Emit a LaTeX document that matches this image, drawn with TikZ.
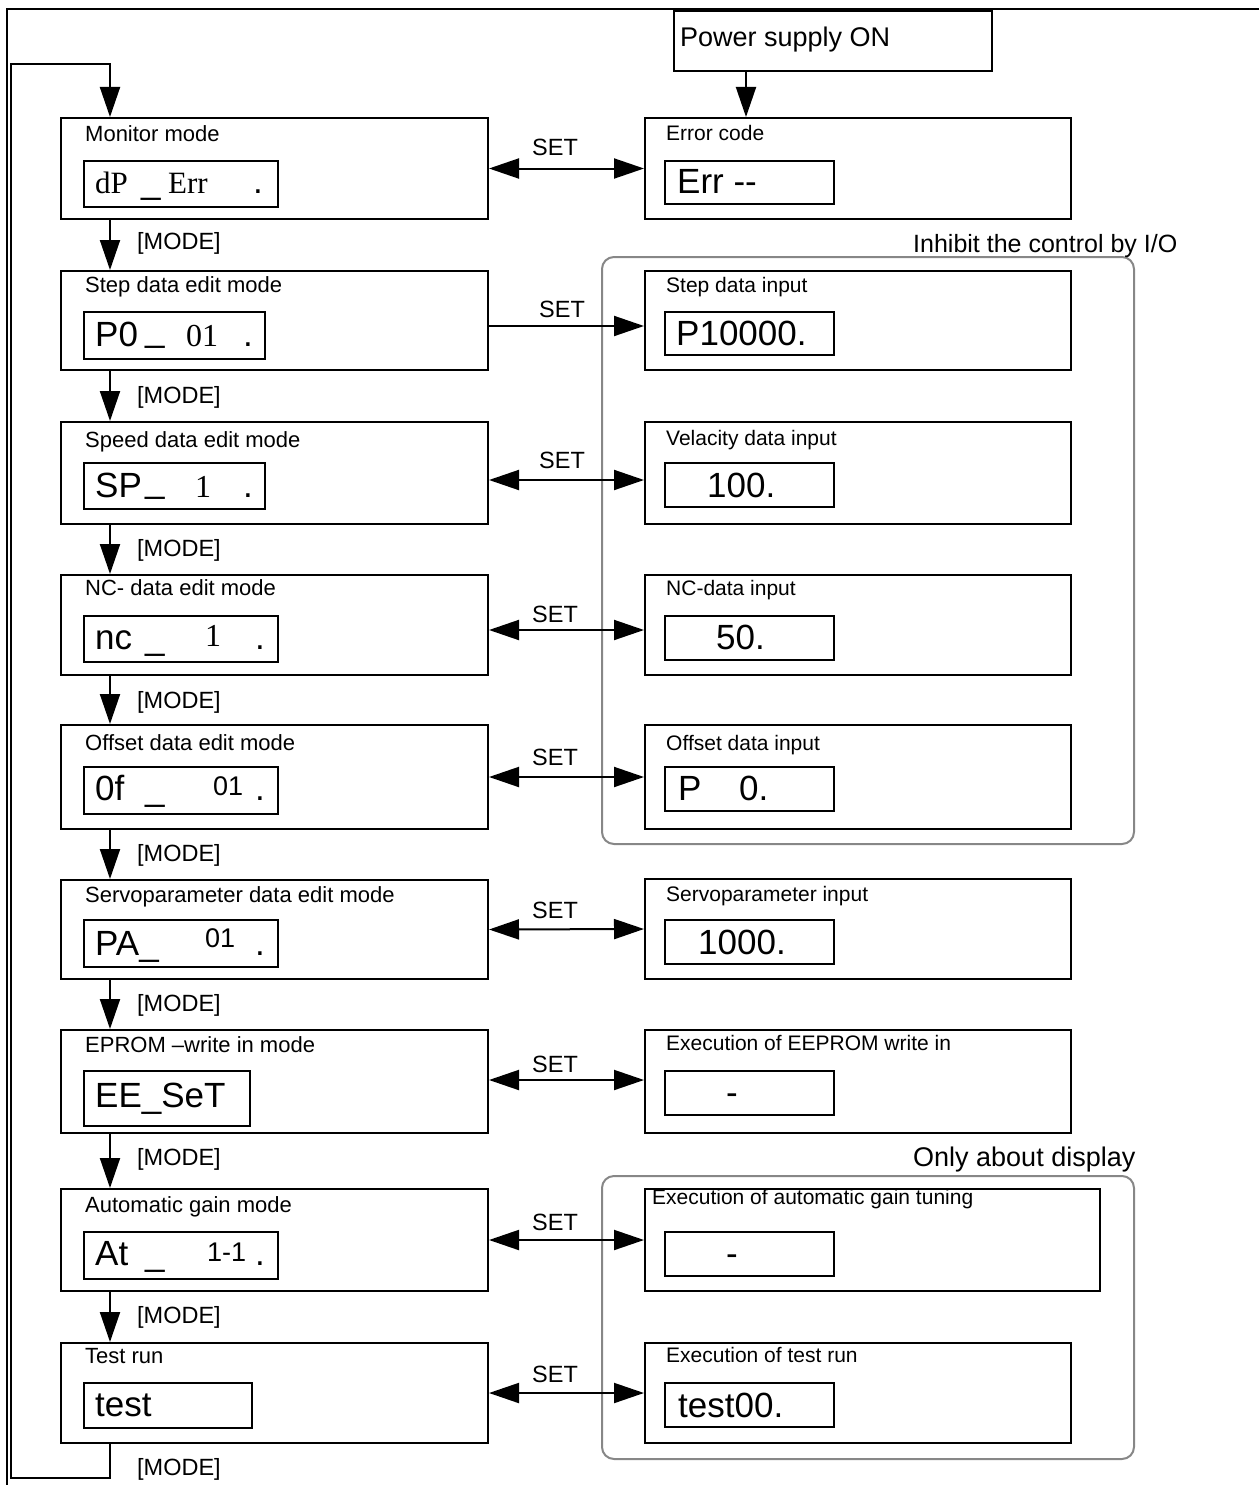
\documentclass[tikz,border=0pt]{standalone}
\usepackage{fontspec}
\setmainfont{Liberation Sans}
\newfontfamily\tmsfont{Liberation Serif}
\usetikzlibrary{arrows.meta,calc}
\newcommand\fs[1]{\fontsize{#1}{#1}\selectfont}
\newcommand\bx[5]{\node[box, minimum width=#4pt, minimum height=#5pt] (#1) at (#2,#3) {};}
\begin{document}
\begin{tikzpicture}[x=1pt,y=-1pt,
  box/.style={draw, line width=2pt, inner sep=0pt, anchor=north west},
  grp/.style={draw=black!47, line width=2pt, rounded corners=12pt, inner sep=0pt, anchor=north west},
  ttl/.style={anchor=base west, inner sep=0pt, font=\fs{22}},
  rttl/.style={anchor=base west, inner sep=0pt, font=\fs{21}},
  dsp/.style={anchor=base west, inner sep=0pt, font=\fs{35}},
  dsps/.style={anchor=base west, inner sep=0pt, font=\fs{27}},
  dspt/.style={anchor=base west, inner sep=0pt, font=\tmsfont\fs{#1}},
  setlbl/.style={anchor=base, inner sep=0pt, font=\fs{23.5}},
  modelbl/.style={anchor=base west, inner sep=0pt, font=\fs{23.5}},
  arr/.style={line width=2pt, -{Triangle[length=30pt,width=20pt]}},
  darr/.style={line width=2pt, {Triangle[length=30pt,width=20pt]}-{Triangle[length=30pt,width=20pt]}},
]
\useasboundingbox (0,0) rectangle (1259,1485);
% frame
\draw[line width=1.3pt] (1259,9) -- (7,9) -- (7,1485);

% group boxes
\node[grp, minimum width=532pt, minimum height=587pt] (g1) at (601,256) {};
\node[grp, minimum width=532pt, minimum height=283pt] (g2) at (601,1175) {};
\node[anchor=base west, inner sep=0pt, font=\fs{25}] (g1t) at (913,252) {Inhibit the control by I/O};
\node[anchor=base west, inner sep=0pt, font=\fs{27}] (g2t) at (913,1166) {Only about display};

% power
\bx{pw}{673}{10}{318}{60}
\node[anchor=base west, inner sep=0pt, font=\fs{27}] (pwt) at (680,47) {Power supply ON};

% left boxes
\bx{m1}{60}{117}{427}{101}
\bx{m2}{60}{270}{427}{99}
\bx{m3}{60}{421}{427}{102}
\bx{m4}{60}{574}{427}{100}
\bx{m5}{60}{724}{427}{104}
\bx{m6}{60}{879}{427}{99}
\bx{m7}{60}{1029}{427}{103}
\bx{m8}{60}{1188}{427}{102}
\bx{m9}{60}{1342}{427}{100}
% right boxes
\bx{r1}{644}{117}{426}{101}
\bx{r2}{644}{270}{426}{99}
\bx{r3}{644}{421}{426}{102}
\bx{r4}{644}{574}{426}{100}
\bx{r5}{644}{724}{426}{104}
\bx{r6}{644}{878}{426}{100}
\bx{r7}{644}{1029}{426}{103}
\bx{r8}{644}{1188}{455}{102}
\bx{r9}{644}{1342}{426}{100}
% left displays
\bx{d1}{83}{160}{194}{46}
\bx{d2}{83}{311}{181}{47}
\bx{d3}{83}{462}{181}{46}
\bx{d4}{83}{615}{194}{46}
\bx{d5}{83}{766}{194}{47}
\bx{d6}{83}{919}{194}{47}
\bx{d7}{83}{1070}{166}{55}
\bx{d8}{83}{1231}{194}{47}
\bx{d9}{83}{1382}{168}{45}
% right displays
\bx{e1}{664}{160}{169}{43}
\bx{e2}{664}{311}{169}{43}
\bx{e3}{664}{462}{169}{44}
\bx{e4}{664}{615}{169}{44}
\bx{e5}{664}{766}{169}{44}
\bx{e6}{664}{919}{169}{44}
\bx{e7}{664}{1070}{169}{44}
\bx{e8}{664}{1231}{169}{44}
\bx{e9}{664}{1382}{169}{44}

% left titles
\node[ttl] (m1t) at (85,142) {Monitor mode};
\node[ttl] (m2t) at (85,292) {Step data edit mode};
\node[ttl] (m3t) at (85,447) {Speed data edit mode};
\node[ttl] (m4t) at (85,595) {NC- data edit mode};
\node[ttl] (m5t) at (85,750) {Offset data edit mode};
\node[ttl] (m6t) at (85,902) {Servoparameter data edit mode};
\node[ttl] (m7t) at (85,1052) {EPROM –write in mode};
\node[ttl] (m8t) at (85,1212) {Automatic gain mode};
\node[ttl] (m9t) at (85,1363) {Test run};
% right titles
\node[rttl] (r1t) at (666,141) {Error code};
\node[rttl] (r2t) at (666,292) {Step data input};
\node[rttl] (r3t) at (666,445) {Velacity data input};
\node[rttl] (r4t) at (666,595) {NC-data input};
\node[rttl] (r5t) at (666,750) {Offset data input};
\node[rttl] (r6t) at (666,901) {Servoparameter input};
\node[rttl] (r7t) at (666,1050) {Execution of EEPROM write in};
\node[rttl] (r8t) at (652,1204) {Execution of automatic gain tuning};
\node[rttl] (r9t) at (666,1362) {Execution of test run};

% left display texts
\node[dspt=31] (d1a) at (95,193) {dP};
\node[dsp] (d1b) at (141,193) {\_};
\node[dspt=31] (d1c) at (168,193) {Err};
\node[dsp] (d1d) at (253,193) {.};
\node[dsp] (d2a) at (95,346) {P0};
\node[dsp] (d2b) at (145,341) {\_};
\node[dspt=32] (d2c) at (186,346) {01};
\node[dsp] (d2d) at (243,346) {.};
\node[dsp] (d3a) at (95,497) {SP};
\node[dsp] (d3b) at (145,492) {\_};
\node[dspt=32] (d3c) at (195,497) {1};
\node[dsp] (d3d) at (243,497) {.};
\node[dsp] (d4a) at (95,649) {nc};
\node[dsp] (d4b) at (145,649) {\_};
\node[dspt=32] (d4c) at (205,646) {1};
\node[dsp] (d4d) at (255,649) {.};
\node[dsp] (d5a) at (95,800) {0f};
\node[dsp] (d5b) at (145,800) {\_};
\node[dsps] (d5c) at (213,795) {01};
\node[dsp] (d5d) at (255,800) {.};
\node[dsp] (d6a) at (95,955) {PA\_};
\node[dsps] (d6c) at (205,947) {01};
\node[dsp] (d6d) at (255,955) {.};
\node[dsp] (d7a) at (95,1107) {EE\_SeT};
\node[dsp] (d8a) at (95,1265) {At};
\node[dsp] (d8b) at (145,1265) {\_};
\node[dsps] (d8c) at (207,1261) {1-1};
\node[dsp] (d8d) at (255,1265) {.};
\node[dsp] (d9a) at (95,1416) {test};
% right display texts
\node[dsp] (e1a) at (677,193) {Err -{}-};
\node[dsp] (e2a) at (676,345) {P10000.};
\node[dsp] (e3a) at (707,497) {100.};
\node[dsp] (e4a) at (716,649) {50.};
\node[dsp] (e5a) at (678,800) {P};
\node[dsp] (e5b) at (739,800) {0.};
\node[dsp] (e6a) at (698,954) {1000.};
\node[dsp] (e7a) at (726,1104) {-};
\node[dsp] (e8a) at (726,1265) {-};
\node[dsp] (e9a) at (678,1417) {test00.};

% SET connectors
\draw[darr] (m1.east) -- (r1.west);
\draw[arr] ([yshift=-5.5pt]m2.east) -- ([yshift=-5.5pt]r2.west);
\draw[darr] ([yshift=-7pt]m3.east) -- ([yshift=-7pt]r3.west);
\draw[darr] ([yshift=-5pt]m4.east) -- ([yshift=-5pt]r4.west);
\draw[darr] (m5.east) -- (r5.west);
\draw[darr] (m6.east) -- (r6.west);
\draw[darr] ([yshift=1.5pt]m7.east) -- ([yshift=1.5pt]r7.west);
\draw[darr] (m8.east) -- (m8.east -| r8.west);
\draw[darr] (m9.east) -- (r9.west);
\node[setlbl] (s1) at (555,155) {SET};
\node[setlbl] (s2) at (562,317) {SET};
\node[setlbl] (s3) at (562,468) {SET};
\node[setlbl] (s4) at (555,622) {SET};
\node[setlbl] (s5) at (555,765) {SET};
\node[setlbl] (s6) at (555,918) {SET};
\node[setlbl] (s7) at (555,1072) {SET};
\node[setlbl] (s8) at (555,1230) {SET};
\node[setlbl] (s9) at (555,1382) {SET};

% MODE connectors
\foreach \a/\b in {m1/m2,m2/m3,m3/m4,m4/m5,m5/m6,m6/m7,m7/m8,m8/m9}{
  \coordinate (\a b) at ($(\a.south west)+(50,0)$);
  \draw[arr] (\a b) -- (\a b |- \b.north);
}
\node[modelbl] (k1) at (137,249) {[MODE]};
\node[modelbl] (k2) at (137,403) {[MODE]};
\node[modelbl] (k3) at (137,556) {[MODE]};
\node[modelbl] (k4) at (137,708) {[MODE]};
\node[modelbl] (k5) at (137,861) {[MODE]};
\node[modelbl] (k6) at (137,1011) {[MODE]};
\node[modelbl] (k7) at (137,1165) {[MODE]};
\node[modelbl] (k8) at (137,1323) {[MODE]};
\node[modelbl] (k9) at (137,1475) {[MODE]};

% return loop
\coordinate (bot9) at ($(m9.south west)+(50,0)$);
\coordinate (top1) at ($(m1.north west)+(50,0)$);
\coordinate (lpa) at (11,1478);
\coordinate (lpb) at (11,64);
\draw[arr] (bot9) -- (bot9 |- lpa) -- (lpa) -- (lpb) -- (lpb -| top1) -- (top1);

% power arrow
\coordinate (pa) at ($(pw.south west)+(73,0)$);
\draw[arr] (pa) -- (pa |- r1.north);
\end{tikzpicture}
\end{document}
